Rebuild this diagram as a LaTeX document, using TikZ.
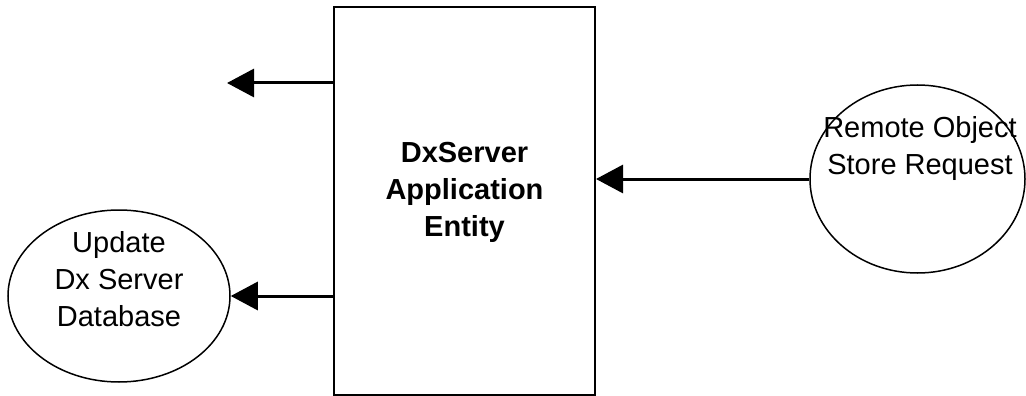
\documentclass[tikz,border=0pt]{standalone}
\usepackage{fontspec}
\setmainfont{Liberation Sans}
\usetikzlibrary{arrows.meta,shapes.geometric}
\begin{document}
\begin{tikzpicture}[x=1pt,y=-1pt,
  boxst/.style={draw,line width=2pt,minimum width=261pt,minimum height=388pt,inner sep=0pt},
  ell/.style={draw,ellipse,line width=1.5pt,inner sep=0pt},
  lbl/.style={align=center,font=\fontsize{29}{37}\selectfont,inner sep=0pt},
  arr/.style={line width=3pt,-{Triangle[length=27pt,width=28pt]}}]
\useasboundingbox (0,0) rectangle (1026,396);
\node[boxst] (box) at (464.5,201) {};
\node[ell,minimum width=222pt,minimum height=172pt] (db) at (119,296) {};
\node[ell,minimum width=215pt,minimum height=188pt] (req) at (917.5,179) {};
\node[lbl] (dbt) at (119,279.5) {Update\\Dx Server\\Database};
\node[lbl] (reqt) at (920,149) {Remote Object\\Store Request};
\node[lbl,font=\fontsize{29}{37}\selectfont\bfseries] (boxt) at (464.5,192.5) {DxServer\\Application\\Entity};
\coordinate (tout) at (227,83);
\draw[arr] (box.west |- tout) -- (tout);
\draw[arr] (box.west |- db.east) -- (db.east);
\draw[arr] (req.west) -- (req.west -| box.east);
\end{tikzpicture}
\end{document}
